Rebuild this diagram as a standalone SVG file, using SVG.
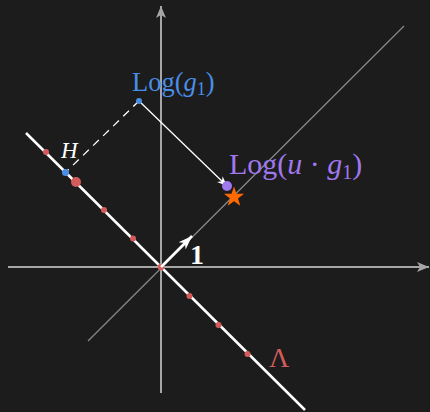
<svg xmlns="http://www.w3.org/2000/svg" width="430" height="412" viewBox="0 0 430 412">
<style>
.axis{stroke:#a6a6a6;stroke-width:2;fill:none}
.diag{stroke:#8a8a8a;stroke-width:1.2;fill:none}
.lam{stroke:#ffffff;stroke-width:2.5;fill:none}
.thin{stroke:#ffffff;stroke-width:1.3;fill:none}
.red{fill:#d35b5b}
.t{font-family:"Liberation Serif",serif}
</style>
<defs>
<marker id="ax" markerUnits="userSpaceOnUse" markerWidth="16" markerHeight="12" refX="13" refY="5" orient="auto" viewBox="0 0 16 10">
<path d="M13,5 L1,0 L4,5 L1,10 Z" fill="#a6a6a6"/>
</marker>
<marker id="wh" markerUnits="userSpaceOnUse" markerWidth="12" markerHeight="10" refX="10" refY="4" orient="auto" viewBox="0 0 12 8">
<path d="M10,4 L0,0 L3,4 L0,8 Z" fill="#ffffff"/>
</marker>
<marker id="one" markerUnits="userSpaceOnUse" markerWidth="16" markerHeight="12" refX="14" refY="5" orient="auto" viewBox="0 0 16 10">
<path d="M14,5 L0,0 L4,5 L0,10 Z" fill="#ffffff"/>
</marker>
</defs>
<rect width="430" height="412" fill="#1c1c1c"/>
<g id="axes">
<line class="axis" x1="8" y1="267" x2="429" y2="267" marker-end="url(#ax)"/>
<line class="axis" x1="161" y1="393" x2="161" y2="6" marker-end="url(#ax)"/>
<line class="diag" x1="88" y1="341" x2="404" y2="26"/>
</g>
<g id="lattice">
<line class="lam" x1="26" y1="133" x2="305" y2="410"/>
<circle class="red" cx="46" cy="152" r="3"/>
<circle class="red" cx="104" cy="210" r="3"/>
<circle class="red" cx="133" cy="238.5" r="3"/>
<circle class="red" cx="161" cy="267" r="3.2"/>
<circle class="red" cx="189.5" cy="296" r="3"/>
<circle class="red" cx="218.5" cy="325" r="3"/>
<circle class="red" cx="247.5" cy="354" r="3"/>
<text class="t" x="269" y="366.5" font-size="28" fill="#d35b5b">Λ</text>
</g>
<g id="connectors">
<line class="thin" x1="139" y1="101" x2="67" y2="171" stroke-dasharray="8 6"/>
<line class="thin" x1="139" y1="101" x2="227" y2="186" marker-end="url(#wh)"/>
<line stroke="#ffffff" stroke-width="2.5" x1="161" y1="267" x2="192" y2="236" marker-end="url(#one)"/>
</g>
<g id="H">
<circle cx="76" cy="182" r="5" class="red"/>
<circle cx="65.5" cy="172.5" r="3.5" fill="#4a8ee6"/>
<text class="t" x="61" y="158" font-size="23" font-style="italic" fill="#ffffff">H</text>
</g>
<g id="log-g1">
<circle cx="139" cy="101" r="3" fill="#4a8ee6"/>
<text class="t" x="132" y="91" font-size="26.5" fill="#4a8ee6">Log(<tspan font-style="italic">g</tspan><tspan font-size="18" dy="4">1</tspan><tspan dy="-4">)</tspan></text>
</g>
<g id="log-ug1">
<circle cx="227" cy="186" r="5" fill="#a078ee"/>
<text class="t" x="229" y="174" font-size="30" fill="#a078ee">Log(<tspan font-style="italic">u</tspan> · <tspan font-style="italic">g</tspan><tspan font-size="20" dy="5">1</tspan><tspan dy="-5">)</tspan></text>
</g>
<g id="star">
<path d="M234,186.5 L236.5,193.8 L244,193.8 L238,198.4 L240.3,205.8 L234,201.3 L227.7,205.8 L230,198.4 L224,193.8 L231.5,193.8 Z" fill="#ff6a00"/>
</g>
<g id="one-label">
<text class="t" x="190" y="263.5" font-size="28" font-weight="bold" fill="#ffffff">1</text>
</g>
</svg>
